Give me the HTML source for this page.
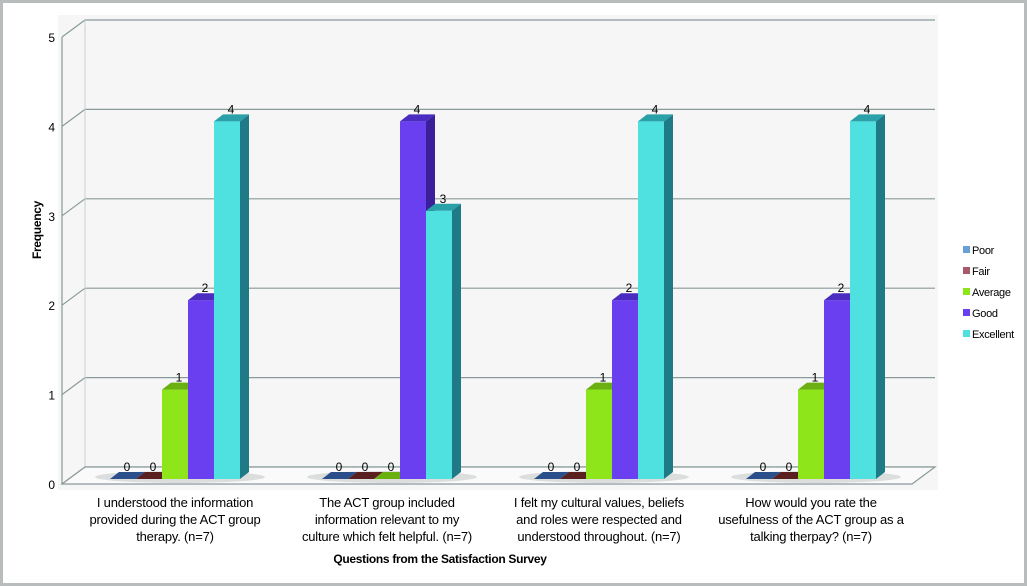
<!DOCTYPE html>
<html><head><meta charset="utf-8"><style>
html,body{margin:0;padding:0;background:#fff;}
svg{display:block;font-family:"Liberation Sans",sans-serif;}
</style></head><body>
<svg id="chart" width="1027" height="586" viewBox="0 0 1027 586">
<rect x="1.5" y="1.5" width="1024" height="583" fill="#fff" stroke="#b8bcbc" stroke-width="3"/>
<rect x="58" y="15" width="880" height="475" fill="#f6f6f6"/>
<g id="grid"></g>
<g id="bars"></g>
<g id="labels"></g>
<text x="440" y="563" font-size="12" font-weight="bold" text-anchor="middle" letter-spacing="-0.3">Questions from the Satisfaction Survey</text>
<text transform="translate(41,230) rotate(-90)" font-size="12" font-weight="bold" text-anchor="middle" letter-spacing="-0.3">Frequency</text>
<g id="legend"></g>
</svg>
<script>
const categories = [
 ["I understood the information","provided during the ACT group","therapy. (n=7)"],
 ["The ACT group included","information relevant to my","culture which felt helpful. (n=7)"],
 ["I felt my cultural values, beliefs","and roles were respected and","understood throughout. (n=7)"],
 ["How would you rate the","usefulness of the ACT group as a","talking therpay? (n=7)"]
];
const seriesNames = ["Poor","Fair","Average","Good","Excellent"];
const poor = [0,0,0,0];
const fair = [0,0,0,0];
const average = [1,0,1,1];
const good = [2,4,2,2];
const excellent = [4,3,4,4];
const yTicks = [0,1,2,3,4,5];

const series = [poor,fair,average,good,excellent];
const frontColor = ["#6a9fd6","#a85a6a","#8ee61a","#6a3ff0","#4fe0e0"];
const sideColor = ["#2a4f8a","#5a2020","#5a9a10","#3a1e9a","#1f7a88"];
const topColor = ["#2a4f8a","#5a2020","#6ab010","#4a2cc0","#2aa0a8"];
const ns="http://www.w3.org/2000/svg";
function mk(t,a,p){const e=document.createElementNS(ns,t);for(const k in a)e.setAttribute(k,a[k]);p.appendChild(e);return e;}
const X0=62, Y0=484, unit=89.4, DX=23, DY=17, XR=912;
const yv=v=>Y0-v*unit;
const grid=document.getElementById('grid');
yTicks.forEach(v=>{
 const l=mk('polyline',{points:`${X0},${yv(v)} ${X0+DX},${yv(v)-DY} ${XR+DX},${yv(v)-DY}`,fill:'none',stroke:'#8a9a9a','stroke-width':1.2},grid);
 
 
 const t=mk('text',{x:X0-7,y:yv(v)+5,'font-size':12,'text-anchor':'end'},grid);
 t.textContent=v;
 
 
});
mk('line',{x1:X0,y1:yv(5),x2:X0,y2:Y0,stroke:'#8a9a9a','stroke-width':1.2},grid);
mk('line',{x1:X0+DX,y1:yv(5)-DY,x2:X0+DX,y2:Y0-DY,stroke:'#c8d0d0','stroke-width':1},grid);
const floor=mk('polygon',{points:`${X0},${Y0} ${XR},${Y0} ${XR+DX},${Y0-DY} ${X0+DX},${Y0-DY}`,fill:'#fafafa',stroke:'#8a9a9a','stroke-width':1.2},grid);


const bars=document.getElementById('bars'), labels=document.getElementById('labels');
const groupW=212, bw=26, bdx=9, bdy=7, gStart=110, baseY=479;
const yb=v=>baseY-v*unit;
categories.forEach((c,gi)=>{
 const gx=gStart+gi*groupW;
 mk('ellipse',{cx:gx+70,cy:baseY-2,rx:85,ry:6,fill:'#c8cccc',opacity:0.6},bars);
 series.forEach((s,si)=>{
  const v=s[gi], x=gx+si*bw, yt=yb(v), h=baseY-yt;
  const g=mk('g',{},bars);
  
  
  if(h>0.5){
   mk('rect',{x:x,y:yt,width:bw,height:h,fill:frontColor[si]},g);
   mk('polygon',{points:`${x+bw},${yt} ${x+bw+bdx},${yt-bdy} ${x+bw+bdx},${baseY-bdy} ${x+bw},${baseY}`,fill:sideColor[si]},g);
  }
  mk('polygon',{points:`${x},${yt} ${x+bdx},${yt-bdy} ${x+bw+bdx},${yt-bdy} ${x+bw},${yt}`,fill:topColor[si]},g);
  const t=mk('text',{x:x+bw/2+4,y:yt-8,'font-size':12,'text-anchor':'middle'},labels);
  t.textContent=v;
  
  
 });
 c.forEach((line,li)=>{
  const t=mk('text',{x:gx+65,y:507+li*17,'font-size':13,'text-anchor':'middle','letter-spacing':'-0.2'},labels);
  t.textContent=line;
  
  
 });
});
const legend=document.getElementById('legend');
seriesNames.forEach((n,i)=>{
 const g=mk('g',{},legend);
 
 
 mk('rect',{x:963,y:246+i*21,width:7,height:7,fill:frontColor[i]},g);
 const t=mk('text',{x:972,y:254+i*21,'font-size':11,'letter-spacing':'-0.3'},g);
 t.textContent=n;
});
</script>
</body></html>
